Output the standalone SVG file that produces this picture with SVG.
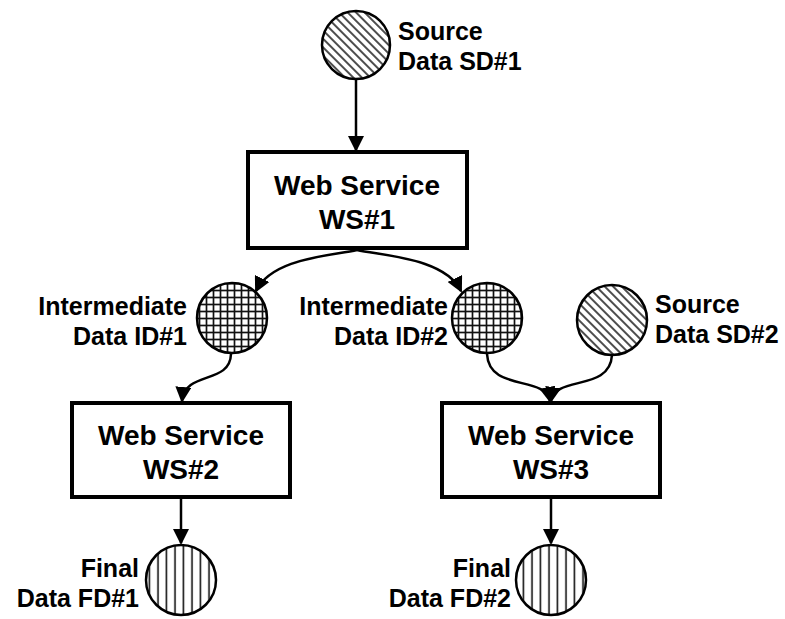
<svg xmlns="http://www.w3.org/2000/svg" width="785" height="619" viewBox="0 0 785 619">
<style>
.lbl{font-family:"Liberation Sans",Arial,sans-serif;font-weight:bold;font-size:25px;fill:#000}
.box{font-family:"Liberation Sans",Arial,sans-serif;font-weight:bold;font-size:28px;fill:#000;text-anchor:middle}
.r{fill:#fff;stroke:#000;stroke-width:4}
.c{stroke:#000;stroke-width:2.5}
.e{fill:none;stroke:#000;stroke-width:2.5;marker-end:url(#ah)}
</style>
<defs>
<marker id="ah" markerWidth="16" markerHeight="16" refX="14" refY="8" orient="auto" markerUnits="userSpaceOnUse">
<path d="M0,0 L16,8 L0,16 Z" fill="#000"/>
</marker>
<pattern id="diag" width="6" height="6" patternUnits="userSpaceOnUse" patternTransform="rotate(-45)">
<rect width="6" height="6" fill="#fff"/>
<line x1="3" y1="0" x2="3" y2="6" stroke="#222" stroke-width="1.6"/>
</pattern>
<pattern id="grid" width="7" height="7" patternUnits="userSpaceOnUse">
<rect width="7" height="7" fill="#fff"/>
<line x1="3.5" y1="0" x2="3.5" y2="7" stroke="#111" stroke-width="1.7"/>
<line x1="0" y1="3.5" x2="7" y2="3.5" stroke="#111" stroke-width="1.7"/>
</pattern>
<pattern id="vert" width="8.5" height="8.5" patternUnits="userSpaceOnUse" x="1">
<rect width="8.5" height="8.5" fill="#fff"/>
<line x1="4" y1="0" x2="4" y2="8.5" stroke="#111" stroke-width="1.6"/>
</pattern>
</defs>

<g id="connectors">
<path class="e" d="M356,80 L356,150"/>
<path class="e" d="M357,250 C330,256 272,258 256,291"/>
<path class="e" d="M357,250 C384,256 445,258 461,291"/>
<path class="e" d="M231,354 C230,385 185,370 182,401"/>
<path class="e" d="M487,354 C489,392 545,375 550,401"/>
<path class="e" d="M612,355 C610,392 555,375 551,401"/>
<path class="e" d="M181,497 L181,543"/>
<path class="e" d="M551,497 L551,543"/>
</g>

<g id="sd1">
<circle class="c" cx="356" cy="45" r="34" fill="url(#diag)"/>
<text class="lbl" x="398" y="40">Source</text>
<text class="lbl" x="398" y="70">Data SD#1</text>
</g>

<g id="ws1">
<rect class="r" x="248" y="152" width="219" height="96"/>
<text class="box" x="357" y="195">Web Service</text>
<text class="box" x="357" y="229">WS#1</text>
</g>

<g id="id1">
<circle class="c" cx="232" cy="318" r="35" fill="url(#grid)"/>
<text class="lbl" x="187" y="315" text-anchor="end">Intermediate</text>
<text class="lbl" x="187" y="345" text-anchor="end">Data ID#1</text>
</g>

<g id="id2">
<circle class="c" cx="487" cy="318" r="35" fill="url(#grid)"/>
<text class="lbl" x="448" y="315" text-anchor="end">Intermediate</text>
<text class="lbl" x="448" y="345" text-anchor="end">Data ID#2</text>
</g>

<g id="sd2">
<circle class="c" cx="612" cy="320" r="35" fill="url(#diag)"/>
<text class="lbl" x="655" y="313">Source</text>
<text class="lbl" x="655" y="343">Data SD#2</text>
</g>

<g id="ws2">
<rect class="r" x="72" y="403" width="218" height="94"/>
<text class="box" x="181" y="445">Web Service</text>
<text class="box" x="181" y="479">WS#2</text>
</g>

<g id="ws3">
<rect class="r" x="442" y="403" width="218" height="94"/>
<text class="box" x="551" y="445">Web Service</text>
<text class="box" x="551" y="479">WS#3</text>
</g>

<g id="fd1">
<circle class="c" cx="181" cy="580" r="35" fill="url(#vert)"/>
<text class="lbl" x="139" y="577" text-anchor="end">Final</text>
<text class="lbl" x="139" y="607" text-anchor="end">Data FD#1</text>
</g>

<g id="fd2">
<circle class="c" cx="551" cy="580" r="35" fill="url(#vert)"/>
<text class="lbl" x="511" y="577" text-anchor="end">Final</text>
<text class="lbl" x="511" y="607" text-anchor="end">Data FD#2</text>
</g>
</svg>
